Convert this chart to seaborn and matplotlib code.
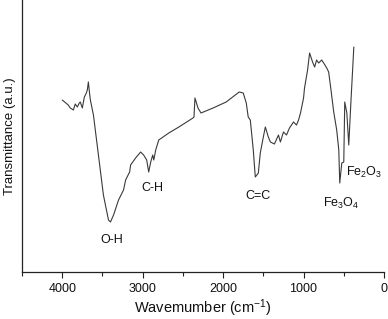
import matplotlib
matplotlib.use("Agg")
import matplotlib.pyplot as plt
import seaborn as sns
import pandas as pd
from matplotlib.ticker import MultipleLocator

wavenumber = [4000, 3925, 3900, 3862, 3838, 3812, 3788, 3775, 3750, 3725, 3700, 3688,
              3675, 3662, 3650, 3612, 3550, 3488, 3425, 3400, 3362, 3300, 3238, 3212,
              3162, 3150, 3088, 3025, 2988, 2950, 2925, 2900, 2875, 2862, 2838, 2800,
              2675, 2550, 2375, 2362, 2350, 2312, 2275, 2125, 1962, 1800, 1750, 1712,
              1688, 1662, 1625, 1600, 1562, 1538, 1500, 1475, 1438, 1412, 1362, 1312,
              1288, 1250, 1212, 1175, 1125, 1088, 1062, 1038, 1000, 988, 950, 925,
              888, 862, 838, 812, 775, 750, 712, 688, 662, 625, 588, 562, 550, 525,
              500, 488, 462, 438, 412, 375]
transmittance = [172, 167, 164, 162, 168, 165, 169, 170, 164, 175, 179, 182,
                 190, 180, 172, 157, 117, 77, 52, 50, 57, 72, 82, 92,
                 100, 107, 114, 120, 117, 112, 100, 110, 117, 112, 122, 132,
                 139, 145, 154, 155, 174, 164, 159, 164, 170, 180, 179, 169,
                 155, 152, 122, 95, 99, 119, 135, 145, 135, 130, 128, 137,
                 130, 140, 137, 144, 150, 147, 152, 159, 174, 184, 202, 219,
                 210, 205, 212, 209, 212, 209, 204, 200, 184, 160, 142, 122, 89, 109,
                 110, 170, 159, 127, 169, 225]

peak_labels = ["O-H", "C-H", "C=C", r"Fe$_3$O$_4$", r"Fe$_2$O$_3$"]
peak_x = [3380, 2880, 1567, 537, 250]
peak_y = [32, 84, 76, 69, 100]

x_ticks = [4000, 3000, 2000, 1000, 0]

sns.set_style("ticks")
plt.rcParams['font.family'] = ['Liberation Sans', 'DejaVu Sans']
plt.rcParams['mathtext.fontset'] = 'custom'
plt.rcParams['mathtext.rm'] = 'Liberation Sans'
plt.rcParams['mathtext.it'] = 'Liberation Sans:italic'
plt.rcParams['mathtext.bf'] = 'Liberation Sans:bold'

df = pd.DataFrame({"w": wavenumber, "t": transmittance})

fig = plt.figure(figsize=(3.88, 3.19), dpi=100)
ax = fig.add_axes([22/388, 1 - 272/319, (384 - 22)/388, 272/319])
sns.lineplot(data=df, x="w", y="t", sort=False, color="#3a3a3a", linewidth=0.8, ax=ax)

ax.set_xlim(4500, 0)
ax.set_ylim(0, 272)
ax.set_xticks(x_ticks)
ax.set_xticklabels([str(v) for v in x_ticks])
ax.xaxis.set_minor_locator(MultipleLocator(500))
ax.tick_params(axis='x', which='major', direction='out', length=4, width=0.8,
               labelsize=9, pad=4, color='#222222', labelcolor='#111111')
ax.tick_params(axis='x', which='minor', direction='out', length=3, width=0.8, color='#222222')
ax.set_yticks([])
ax.set_xlabel("Wavemumber (cm$^{-1}$)", fontsize=10.5, labelpad=2, color='#111111')
ax.set_ylabel("Transmittance (a.u.)", fontsize=9.5, labelpad=4, color='#111111')

for lab, px, py in zip(peak_labels, peak_x, peak_y):
    ax.text(px, py, lab, ha='center', va='center', fontsize=9, color='#111111')

sns.despine(ax=ax, top=True, right=True)
for s in ['left', 'bottom']:
    ax.spines[s].set_linewidth(0.9)
    ax.spines[s].set_color('#222222')

fig.savefig("out.png", dpi=100)
